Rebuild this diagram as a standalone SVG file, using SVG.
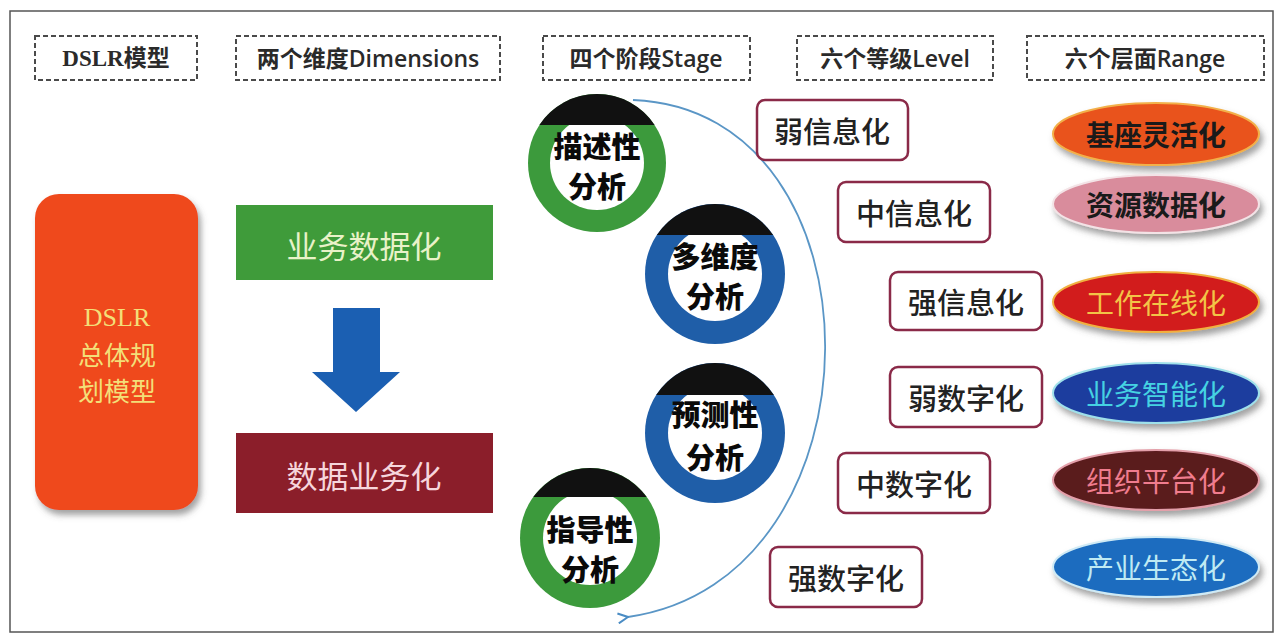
<svg xmlns="http://www.w3.org/2000/svg" width="1284" height="640" viewBox="0 0 1284 640">
<defs>
<style>
.hdr{fill:none;stroke:#4a4a4a;stroke-width:2;stroke-dasharray:5 3}
.ht{font-family:"Open Sans","Noto Sans CJK SC",sans-serif;font-size:23px;font-weight:600;fill:#2a2a2a;text-anchor:middle;dominant-baseline:central}
.cj{font-family:"Noto Sans CJK SC",sans-serif;text-anchor:middle;dominant-baseline:central}
.lvl{fill:#fff;stroke:#8a2a48;stroke-width:2.5}
.lt{font-family:"Noto Sans CJK SC",sans-serif;font-size:29px;font-weight:500;fill:#222;text-anchor:middle;dominant-baseline:central}
.rt{font-family:"Noto Sans CJK SC",sans-serif;font-size:29px;font-weight:900;fill:#0a0a0a;text-anchor:middle;dominant-baseline:central}
.et{font-family:"Noto Sans CJK SC",sans-serif;font-size:28px;text-anchor:middle;dominant-baseline:central}
.cap{fill:#111}
.inner{fill:#fff}
</style>
<filter id="sh" x="-20%" y="-20%" width="140%" height="150%">
<feDropShadow dx="3" dy="5" stdDeviation="3" flood-color="#555" flood-opacity="0.55"/>
</filter>
<marker id="ah" viewBox="0 0 12 12" refX="1" refY="6" markerWidth="12" markerHeight="12" orient="auto-start-reverse" markerUnits="userSpaceOnUse">
<path d="M11,1 L1,6 L11,11" fill="none" stroke="#4a8cc4" stroke-width="2"/>
</marker>
</defs>
<rect width="1284" height="640" fill="#fff"/>
<rect x="10" y="11" width="1263" height="621" fill="none" stroke="#555" stroke-width="1.5"/>

<g id="headers">
<g id="h1"><rect class="hdr" x="35" y="36" width="162" height="44"/><text class="ht" x="116" y="58" style="font-family:'Liberation Serif','Noto Sans CJK SC',serif;font-weight:bold">DSLR模型</text></g>
<g id="h2"><rect class="hdr" x="236" y="36" width="264" height="44"/><text class="ht" x="368" y="58">两个维度Dimensions</text></g>
<g id="h3"><rect class="hdr" x="543" y="36" width="207" height="44"/><text class="ht" x="646" y="58">四个阶段Stage</text></g>
<g id="h4"><rect class="hdr" x="797" y="36" width="196" height="44"/><text class="ht" x="895" y="58">六个等级Level</text></g>
<g id="h5"><rect class="hdr" x="1027" y="36" width="237" height="44"/><text class="ht" x="1145" y="58">六个层面Range</text></g>
</g>

<g id="model">
<rect x="35" y="194" width="163" height="316" rx="24" fill="#ef4a1e" filter="url(#sh)"/>
<text class="cj" x="117" y="317" font-size="26" fill="#f3df78"><tspan x="117" y="317" style="font-family:'Liberation Serif','Noto Sans CJK SC',serif">DSLR</tspan><tspan x="117" y="353">总体规</tspan><tspan x="117" y="389">划模型</tspan></text>
</g>

<g id="dim1">
<rect x="236" y="205" width="257" height="75" fill="#3f9b3a"/>
<text class="cj" x="364" y="244" font-size="31" fill="#e9f2c8">业务数据化</text>
</g>
<g id="dim-arrow">
<path d="M333,308 H380 V372 H400 L356,412 L312,372 H333 Z" fill="#1b5fb2"/>
</g>
<g id="dim2">
<rect x="236" y="433" width="257" height="80" fill="#8b1e2a"/>
<text class="cj" x="364" y="474" font-size="31" fill="#f6d6dc">数据业务化</text>
</g>

<g id="connectors">
<path d="M633,100 C890,110 890,580 628,617" fill="none" stroke="#5a96c6" stroke-width="1.8" marker-end="url(#ah)"/>
</g>

<g id="stage1">
<circle cx="597" cy="163" r="69" fill="#3c9a3c"/>
<circle class="inner" cx="597" cy="163" r="47"/>
<path class="cap" d="M539.4,125 A69,69 0 0 1 654.6,125 Z"/>
<text class="rt" x="597" y="145"><tspan x="597" y="145">描述性</tspan><tspan x="597" y="185">分析</tspan></text>
</g>
<g id="stage2">
<circle cx="715" cy="274" r="70" fill="#1f5ea8"/>
<circle class="inner" cx="715" cy="274" r="47"/>
<path class="cap" d="M656.9,235 A70,70 0 0 1 773.1,235 Z"/>
<text class="rt" x="715" y="255"><tspan x="715" y="255">多维度</tspan><tspan x="715" y="295">分析</tspan></text>
</g>
<g id="stage3">
<circle cx="715" cy="433" r="70" fill="#1f5ea8"/>
<circle class="inner" cx="715" cy="433" r="47"/>
<path class="cap" d="M656.2,395 A70,70 0 0 1 773.8,395 Z"/>
<text class="rt" x="715" y="413"><tspan x="715" y="413">预测性</tspan><tspan x="715" y="456">分析</tspan></text>
</g>
<g id="stage4">
<circle cx="590" cy="538" r="70" fill="#3c9a3c"/>
<circle class="inner" cx="590" cy="538" r="47"/>
<path class="cap" d="M533.3,497 A70,70 0 0 1 646.7,497 Z"/>
<text class="rt" x="590" y="528"><tspan x="590" y="528">指导性</tspan><tspan x="590" y="568">分析</tspan></text>
</g>

<g id="level1"><rect class="lvl" x="757" y="100" width="151" height="60" rx="8"/><text class="lt" x="832" y="130">弱信息化</text></g>
<g id="level2"><rect class="lvl" x="838" y="182" width="152" height="60" rx="8"/><text class="lt" x="914" y="212">中信息化</text></g>
<g id="level3"><rect class="lvl" x="890" y="272" width="152" height="58" rx="8"/><text class="lt" x="966" y="301">强信息化</text></g>
<g id="level4"><rect class="lvl" x="890" y="367" width="152" height="60" rx="8"/><text class="lt" x="966" y="397">弱数字化</text></g>
<g id="level5"><rect class="lvl" x="838" y="453" width="152" height="60" rx="8"/><text class="lt" x="914" y="483">中数字化</text></g>
<g id="level6"><rect class="lvl" x="770" y="547" width="152" height="60" rx="8"/><text class="lt" x="846" y="577">强数字化</text></g>

<g id="range1"><ellipse cx="1156" cy="134" rx="103" ry="31" fill="#e9531d" stroke="#f2b04a" stroke-width="2" filter="url(#sh)"/><text class="et" x="1156" y="134" fill="#1a1a1a" font-weight="bold">基座灵活化</text></g>
<g id="range2"><ellipse cx="1156" cy="204" rx="103" ry="29" fill="#d98c9c" stroke="#f3e3e6" stroke-width="2" filter="url(#sh)"/><text class="et" x="1156" y="204" fill="#1a1a1a" font-weight="bold">资源数据化</text></g>
<g id="range3"><ellipse cx="1156" cy="302" rx="103" ry="30" fill="#d21c1c" stroke="#f0b040" stroke-width="2" filter="url(#sh)"/><text class="et" x="1156" y="302" fill="#f2c447">工作在线化</text></g>
<g id="range4"><ellipse cx="1156" cy="393" rx="103" ry="30" fill="#1f3d9e" stroke="#9fe0ea" stroke-width="2" filter="url(#sh)"/><text class="et" x="1156" y="393" fill="#45d2e2">业务智能化</text></g>
<g id="range5"><ellipse cx="1156" cy="480" rx="103" ry="30" fill="#5a1a1f" stroke="#e4a0aa" stroke-width="2" filter="url(#sh)"/><text class="et" x="1156" y="480" fill="#f07c8e">组织平台化</text></g>
<g id="range6"><ellipse cx="1156" cy="567" rx="103" ry="30" fill="#1c6cbf" stroke="#cfeaf5" stroke-width="2" filter="url(#sh)"/><text class="et" x="1156" y="567" fill="#bfeaf3">产业生态化</text></g>
</svg>
